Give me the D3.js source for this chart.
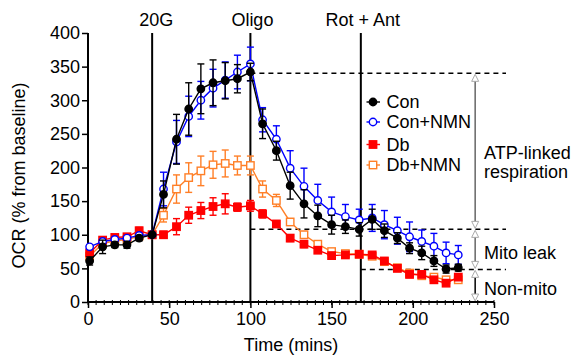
<!DOCTYPE html>
<html><head><meta charset="utf-8">
<script src="https://cdn.jsdelivr.net/npm/d3@7"></script>
<style>
body{margin:0;background:#fff;}
svg text{font-family:"Liberation Sans",Arial,sans-serif;fill:#000;}
</style></head>
<body><svg id="c" width="571" height="358"></svg>
<script>
const times = [1, 9, 16.5, 24, 31.5, 39.5, 46.5, 54.5, 62, 69.5, 77, 84.5, 92, 100, 107.5, 116, 124.5, 133, 141.5, 150, 158.5, 167, 175, 182.5, 190.5, 198, 205.5, 213, 220.5, 228];
const con      = [61, 82, 85, 85, 95, 100, 160, 242, 287, 317, 326, 329, 332, 342, 265, 225, 173, 146, 128, 115, 112, 108, 123, 106, 95, 80, 73, 61, 49, 51];
const conErr   = [6, 10, 4, 5, 4, 0, 20, 37, 39, 37, 34, 27, 21, 13, 22, 14, 20, 21, 16, 14, 10, 10, 15, 10, 8, 8, 10, 8, 6, 5];
const conNMN   = [82, 90, 93, 95, 99, 100, 168, 238, 276, 300, 318, 330, 342, 354, 271, 242, 199, 172, 151, 134, 127, 122, 125, 115, 106, 97, 90, 83, 73, 70];
const conNMNErr= [3, 3, 3, 3, 3, 0, 25, 32, 30, 28, 28, 27, 25, 25, 18, 20, 26, 27, 24, 22, 18, 16, 20, 21, 20, 22, 17, 19, 16, 14];
const db       = [73, 92, 96, 97, 106, 100, 100, 112, 129, 136, 142, 146, 141, 143, 131, 116, 95, 86, 77, 69, 70, 71, 70, 61, 50, 41, 41, 33, 28, 37];
const dbErr    = [5, 3, 4, 3, 5, 0, 5, 12, 12, 12, 13, 15, 6, 8, 6, 5, 5, 5, 4, 4, 3, 3, 3, 3, 3, 3, 3, 3, 3, 3];
const dbNMN    = [68, 87, 91, 93, 98, 100, 129, 168, 185, 195, 204, 206, 203, 203, 168, 151, 119, 100, 86, 75, 72, 71, 68, 60, 51, 43, 39, 37, 33, 33];
const dbNMNErr = [4, 3, 3, 3, 3, 0, 10, 21, 22, 22, 20, 20, 14, 14, 12, 9, 5, 5, 4, 3, 3, 3, 3, 3, 3, 3, 3, 3, 3, 3];

const seriesNames = ["Con", "Con+NMN", "Db", "Db+NMN"];
const xTicks = [0, 50, 100, 150, 200, 250];
const yTicks = [0, 50, 100, 150, 200, 250, 300, 350, 400];
const injections = [{t: 39.5, label: "20G"}, {t: 100, label: "Oligo"}, {t: 168, label: "Rot + Ant"}];
const levels = [340, 108, 48.5, 0];
const regionLabels = [["ATP-linked", "respiration"], ["Mito leak"], ["Non-mito"]];

const svg = d3.select("#c");
const x = d3.scaleLinear().domain([0, 250]).range([88, 494]);
const y = d3.scaleLinear().domain([0, 400]).range([302, 33]);
const FS = "18px";

const series = [
  {name: "Db+NMN", vals: dbNMN, err: dbNMNErr, color: "#ff7f27", shape: "square", fill: "#fff"},
  {name: "Db", vals: db, err: dbErr, color: "#ff0000", shape: "square", fill: "#ff0000"},
  {name: "Con+NMN", vals: conNMN, err: conNMNErr, color: "#0000ff", shape: "circle", fill: "#fff"},
  {name: "Con", vals: con, err: conErr, color: "#000000", shape: "circle", fill: "#000"}
];

// injection lines
injections.forEach(d => {
  svg.append("line").attr("x1", x(d.t)).attr("x2", x(d.t)).attr("y1", y(0)).attr("y2", y(400))
    .attr("stroke", "#000").attr("stroke-width", 2);
  svg.append("text").attr("x", x(d.t) + (d.label === "20G" ? 4 : 2)).attr("y", 26).attr("text-anchor", "middle")
    .style("font-size", FS).text(d.label);
});

// dashed level lines
const dashStart = [100, 100, 168];
[0,1,2].forEach(i => {
  svg.append("line").attr("x1", x(dashStart[i])).attr("x2", 506).attr("y1", y(levels[i])).attr("y2", y(levels[i]))
    .attr("stroke", "#000").attr("stroke-width", 1.5).attr("stroke-dasharray", "5,4");
});

// axes
const yAxis = d3.axisLeft(y).tickValues(yTicks).tickSize(6).tickPadding(2);
const gy = svg.append("g").attr("transform", `translate(${x(0)},0)`).call(yAxis);
gy.select(".domain").attr("stroke-width", 2).attr("d", `M0,${y(0)}V${y(400)}`);
gy.selectAll(".tick line").attr("stroke-width", 1.5);
gy.selectAll("text").style("font-size", FS).style("font-family", "Liberation Sans, Arial, sans-serif");

const minor = d3.range(0, 251, 5);
const gxm = svg.append("g").attr("transform", `translate(0,${y(0)})`);
gxm.selectAll("line").data(minor).join("line")
  .attr("x1", d => x(d)).attr("x2", d => x(d)).attr("y1", -2).attr("y2", 3)
  .attr("stroke", "#000").attr("stroke-width", 1);
const xAxis = d3.axisBottom(x).tickValues(xTicks).tickSize(6).tickPadding(4);
const gx = svg.append("g").attr("transform", `translate(0,${y(0)})`).call(xAxis);
gx.select(".domain").attr("stroke-width", 2).attr("d", `M${x(0)},0H${x(250)}`);
gx.selectAll(".tick line").attr("stroke-width", 1.5);
gx.selectAll("text").style("font-size", FS).style("font-family", "Liberation Sans, Arial, sans-serif");

svg.append("text").attr("x", 291).attr("y", 351).attr("text-anchor", "middle").style("font-size", FS).text("Time (mins)");
svg.append("text").attr("transform", `translate(25,${(y(0)+y(400))/2 + 8}) rotate(-90)`).attr("text-anchor", "middle")
  .style("font-size", FS).text("OCR (% from baseline)");

// region arrows
const ax = x(238.4);
function head(yTip, dir) { // dir -1 pointing up, +1 pointing down
  const h = 7, w = 3.5;
  svg.append("path").attr("d", `M${ax},${yTip}L${ax-w},${yTip - dir*h}L${ax+w},${yTip - dir*h}Z`)
    .attr("fill", "#fff").attr("stroke", "#aaa").attr("stroke-width", 1);
}
const arrowCols = ["#666", "#666", "#000"];
[[340,108],[108,48.5],[48.5,0]].forEach((p,i) => {
  const y1 = y(p[0]) + 1, y2 = y(p[1]) - 1;
  svg.append("line").attr("x1", ax).attr("x2", ax).attr("y1", y1 + 6).attr("y2", y2 - 6)
    .attr("stroke", arrowCols[i]).attr("stroke-width", 1.5);
  head(y1, -1); head(y2, 1);
});
const labY = [[158.5, 177.5], [259], [295]];
regionLabels.forEach((ls, i) => {
  ls.forEach((l, j) => svg.append("text").attr("x", 484).attr("y", labY[i][j]).style("font-size", FS).text(l));
});

// series
const line = d3.line().x((d, i) => x(times[i])).y(d => y(d));
series.forEach(s => {
  const g = svg.append("g");
  g.append("path").datum(s.vals).attr("d", line).attr("fill", "none").attr("stroke", s.color).attr("stroke-width", 1.4);
  s.vals.forEach((v, i) => {
    const e = s.err[i];
    if (e > 0) {
      const xx = x(times[i]);
      g.append("line").attr("x1", xx).attr("x2", xx).attr("y1", y(v - e)).attr("y2", y(v + e)).attr("stroke", s.color).attr("stroke-width", 1.4);
      [v - e, v + e].forEach(c => g.append("line").attr("x1", xx - 3.5).attr("x2", xx + 3.5).attr("y1", y(c)).attr("y2", y(c)).attr("stroke", s.color).attr("stroke-width", 1.4));
    }
  });
  s.vals.forEach((v, i) => drawMarker(g, x(times[i]), y(v), s));
});

function drawMarker(g, cx, cy, s) {
  if (s.shape === "circle") {
    g.append("circle").attr("cx", cx).attr("cy", cy).attr("r", 3.7).attr("fill", s.fill).attr("stroke", s.color).attr("stroke-width", 1.4);
  } else {
    g.append("rect").attr("x", cx - 3.7).attr("y", cy - 3.7).attr("width", 7.4).attr("height", 7.4).attr("fill", s.fill).attr("stroke", s.color).attr("stroke-width", 1.4);
  }
}

// legend
const legY = [102, 122, 144.5, 165];
seriesNames.forEach((n, i) => {
  const s = series.find(d => d.name === n);
  const g = svg.append("g");
  g.append("line").attr("x1", 366.5).attr("x2", 380).attr("y1", legY[i]).attr("y2", legY[i]).attr("stroke", s.color).attr("stroke-width", 1.4);
  drawMarker(g, 373, legY[i], s);
  g.append("text").attr("x", 386.5).attr("y", legY[i] + 6.3).style("font-size", FS).text(n);
});
</script></body></html>
